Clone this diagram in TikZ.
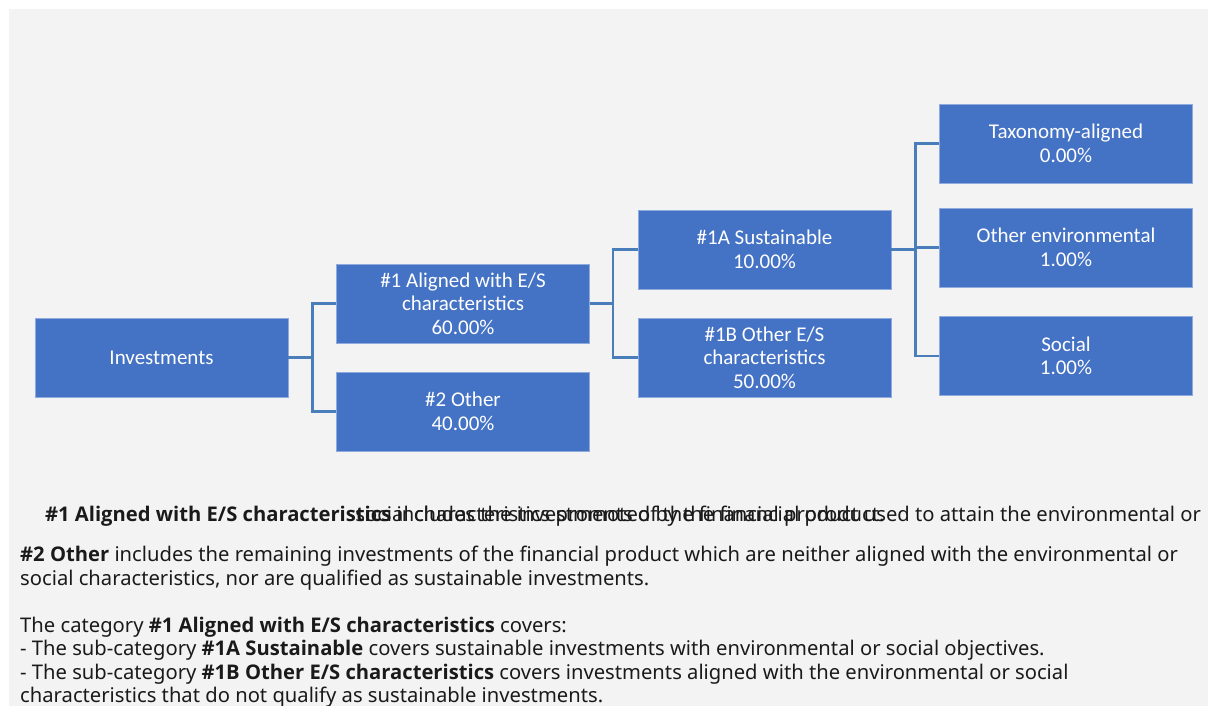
\documentclass[tikz,border=0pt]{standalone}
\usepackage{fontspec}
\setmainfont{Noto Sans}[BoldFont={Open Sans Bold}]
\newfontfamily\boxfont{Carlito}
\definecolor{bggray}{HTML}{F3F3F3}
\definecolor{boxblue}{HTML}{4472C4}
\definecolor{boxedge}{HTML}{8FAADC}
\definecolor{connblue}{HTML}{4A7EBB}
\definecolor{txtdark}{HTML}{1A1A1A}
\tikzset{
  box/.style={rectangle, fill=boxblue, draw=boxedge, line width=0.8pt,
    minimum width=253pt, minimum height=79pt, inner sep=0pt, align=center,
    text=white, font=\boxfont\fontsize{21}{23.5}\selectfont},
  conn/.style={draw=connblue, line width=2.2pt, line join=miter},
  para/.style={inner sep=0pt, anchor=base west, text=txtdark,
    font=\fontsize{20.2}{23.5}\selectfont},
  cpara/.style={inner sep=0pt, anchor=base, text=txtdark,
    font=\fontsize{20.2}{23.5}\selectfont}
}
\begin{document}
\begin{tikzpicture}[x=1pt, y=-1pt]
\useasboundingbox (0,0) rectangle (1208,706);
\fill[white] (0,0) rectangle (1208,706);
\fill[bggray] (9,9) rectangle (1208,706);

\node[box] (inv)  at (161.5,357.5) {Investments};
\node[box] (a1)   at (463,303.5)   {\#1 Aligned with E/S\\characteristics\\60.00\%};
\node[box] (o2)   at (463,411.5)   {\#2 Other\\40.00\%};
\node[box] (s1a)  at (764.5,249.5) {\#1A Sustainable\\10.00\%};
\node[box] (b1b)  at (764.5,357.5) {\#1B Other E/S\\characteristics\\50.00\%};
\node[box] (tax)  at (1066,143.5)  {Taxonomy-aligned\\0.00\%};
\node[box] (oenv) at (1066,247.5)  {Other environmental\\1.00\%};
\node[box] (soc)  at (1066,356)    {Social\\1.00\%};

\draw[conn] (inv.east) -- ++(24,0) |- (a1.west);
\draw[conn] (inv.east) -- ++(24,0) |- (o2.west);
\draw[conn] (a1.east) -- ++(23,0) |- (s1a.west);
\draw[conn] (a1.east) -- ++(23,0) |- (b1b.west);
\draw[conn] (s1a.east) -- ++(24,0) |- (tax.west);
\draw[conn] (s1a.east) -- ++(24,0) |- (oenv.west);
\draw[conn] (s1a.east) -- ++(24,0) |- (soc.west);

\node[cpara] (l1) at (623,521.7) {\textbf{\#1 Aligned with E/S characteristics} includes the investments of the financial product used to attain the environmental or};
\node[cpara] (l1b) at (620,521.7) {social characteristics promoted by the financial product.};
\node[para] (l2) at (20,561.7) {\textbf{\#2 Other} includes the remaining investments of the financial product which are neither aligned with the environmental or};
\node[para] (l3) at (20,585.2) {social characteristics, nor are qualified as sustainable investments.};
\node[para] (l4) at (20,632.3) {The category \textbf{\#1 Aligned with E/S characteristics} covers:};
\node[para] (l5) at (20,655.8) {- The sub-category \textbf{\#1A Sustainable} covers sustainable investments with environmental or social objectives.};
\node[para] (l6) at (20,679.3) {- The sub-category \textbf{\#1B Other E/S characteristics} covers investments aligned with the environmental or social};
\node[para] (l7) at (20,702.8) {characteristics that do not qualify as sustainable investments.};
\end{tikzpicture}
\end{document}
